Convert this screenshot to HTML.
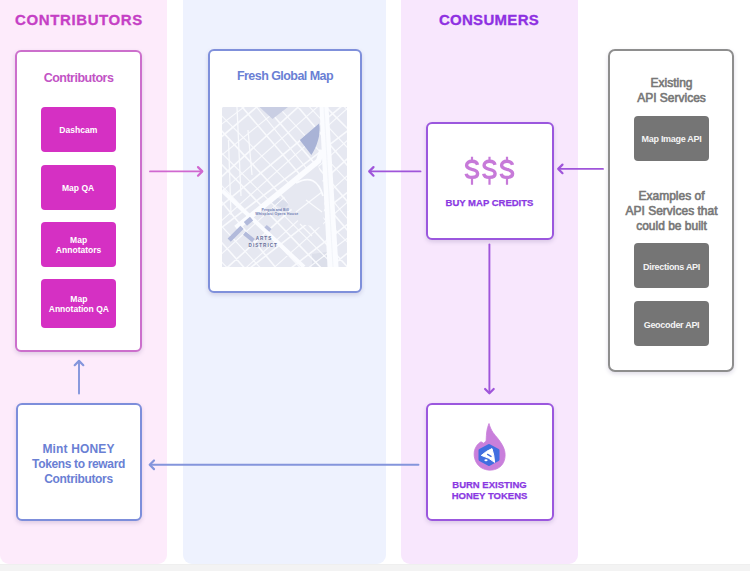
<!DOCTYPE html>
<html><head><meta charset="utf-8">
<style>
*{margin:0;padding:0;box-sizing:border-box}
html,body{width:750px;height:571px;overflow:hidden;background:#fff;font-family:"Liberation Sans",sans-serif}
.abs{position:absolute}
.col{position:absolute;top:0;height:564px;border-radius:0 0 9px 9px}
.box{position:absolute;background:#fff;border:2px solid;border-radius:6px;box-shadow:0 2px 4px rgba(80,60,120,.18)}
.t{position:absolute;white-space:nowrap;text-align:center;font-weight:bold}
.pk{position:absolute;left:41px;width:75px;height:45px;background:#d530c3;border-radius:4px;color:#fff;font-weight:bold;font-size:9.6px;line-height:10px;padding-top:1px;display:flex;align-items:center;justify-content:center;text-align:center}
.pk span{display:inline-block;transform:scaleX(0.89);white-space:nowrap}
.gb{position:absolute;left:634px;width:75px;height:45px;background:#757575;border-radius:4px;color:#f4f4f4;font-weight:bold;font-size:9px;letter-spacing:-0.3px;display:flex;align-items:center;justify-content:center}
</style></head><body>
<div class="col" style="left:0;width:166.5px;background:#fdebfb"></div>
<div class="col" style="left:182.5px;width:203.5px;background:#eef2fe"></div>
<div class="col" style="left:401px;width:177px;background:#f8e7fd"></div>
<div class="abs" style="left:0;top:564px;width:750px;height:7px;background:#f3f3f3;border-top:1px solid #efefef"></div>

<div class="t" style="left:15px;top:11px;width:128px;font-size:15px;color:#c53fc5;letter-spacing:0.6px;-webkit-text-stroke:0.3px #c53fc5">CONTRIBUTORS</div>
<div class="t" style="left:437px;top:11px;width:104px;font-size:15px;color:#8e30e2;letter-spacing:0.3px;-webkit-text-stroke:0.3px #8e30e2">CONSUMERS</div>

<!-- contributors box -->
<div class="box" style="left:15px;top:50px;width:127px;height:302px;border-color:#cc6fcc"></div>
<div class="t" style="left:15px;top:71px;width:127px;font-size:12.5px;color:#c253c5;letter-spacing:-0.5px">Contributors</div>
<div class="pk" style="top:107px"><span>Dashcam</span></div>
<div class="pk" style="top:165px"><span>Map QA</span></div>
<div class="pk" style="top:222px"><span>Map<br>Annotators</span></div>
<div class="pk" style="top:279px;height:49px;padding-top:1px"><span>Map<br>Annotation QA</span></div>

<!-- mint box -->
<div class="box" style="left:16px;top:403px;width:126px;height:118px;border-color:#7d8edb"></div>
<div class="t" style="left:15.5px;top:441.8px;width:126px;font-size:12px;line-height:15px;color:#6a80d4"><div style="letter-spacing:0.15px">Mint HONEY</div><div style="letter-spacing:-0.35px">Tokens to reward</div><div style="letter-spacing:-0.35px">Contributors</div></div>

<!-- map box -->
<div class="box" style="left:208px;top:49px;width:154px;height:244px;border-color:#7f90db"></div>
<div class="t" style="left:208.5px;top:68.7px;width:153px;font-size:12.5px;color:#6a80d4;letter-spacing:-0.55px">Fresh Global Map</div>
<svg class="abs" style="left:222px;top:107px;font-family:'Liberation Sans',sans-serif" width="125" height="160" viewBox="222 107 125 160">
 <defs><clipPath id="mc"><rect x="222" y="107" width="125.5" height="160"/></clipPath></defs>
 <g clip-path="url(#mc)">
  <rect x="222" y="107" width="126" height="160" fill="#e6e8f1"/>
  <polygon points="312,254 327,252 329,267 312,267" fill="#dcdfea"/>
  <polygon points="276,197 290,203 284,209 272,203" fill="#dadeeb"/>
  <g stroke="#f9fafd" fill="none">
   <path d="M93.3 191.9L327.9 4.9M109.0 210.5L347.1 28.0M127.0 232.1L359.8 42.9M147.9 257.0L372.5 58.1M162.0 273.7L385.9 74.1M178.2 293.0L400.9 92.1M195.5 313.6L417.6 112.0M207.0 327.4L430.9 127.8M216.0 338.0L454.9 156.5M230.6 355.4L469.1 173.4M269.9 -2.2L473.9 217.8M254.8 11.4L460.2 230.1M236.2 28.2L440.7 247.7M219.0 43.7L424.0 262.7M211.0 51.1L400.4 283.7M182.6 76.6L394.3 289.2M163.0 94.3L375.0 306.6M147.3 108.3L355.0 324.7M128.0 125.6L332.4 345.2M106.9 144.7L316.7 359.2" stroke-width="1.1"/>
   <path d="M100.2 199.9L338.7 17.9M119.4 223.1L348.5 29.4M141.7 249.5L363.5 47.5M152.5 262.5L383.8 71.4M161.8 273.4L399.8 90.8M187.2 303.8L409.6 102.4M193.8 311.6L430.9 127.8M210.0 330.8L447.1 147.1M226.6 350.8L460.0 162.3M238.8 365.2L477.8 183.8M260.0 6.8L468.9 222.2M242.1 23.1L454.1 235.3M233.7 30.5L426.9 260.0M214.7 47.5L410.6 274.7M201.5 59.4L396.4 287.6M176.4 82.0L380.2 302.2M158.1 98.6L366.2 314.7M145.9 109.7L336.4 341.4M121.9 131.1L322.0 354.6M104.9 146.4L298.6 375.5" stroke-width="1.6"/>
  </g>
  <polygon points="281,191 318,165 325,190 323,228 300,224" fill="#e6e8f1"/>
  <path d="M296 212L322 192M300 224L312 236M306 200L322 212" stroke="#f9fafd" stroke-width="1.2" fill="none"/>
  <path d="M237 107L241 196M228.5 140L231 215M248 130L252 175" stroke="#f9fafd" stroke-width="1.3" fill="none"/>
  <polygon points="259.5,107 288,107 272.5,119" fill="#c9cee3"/>
  <path d="M299.8 140L319.3 123.3C320 130 319.5 136 318.1 140C316.5 146 314 151 311.4 155Z" fill="#a9b3d6"/>
  <path d="M222 190.5L304 267" stroke="#fbfcff" stroke-width="4" fill="none"/>
  <path d="M236 228L264.5 205L318.5 161L322 150" stroke="#fbfcff" stroke-width="5.5" fill="none"/>
  <path d="M296 183Q316 172 323 196" stroke="#fbfcff" stroke-width="1.8" fill="none"/>
  <polygon points="319.5,107 328.5,107 338.5,267 327.5,267" fill="#fbfcff"/>
  <path d="M324 107L333 267" stroke="#eef0f6" stroke-width=".7"/>
  <path d="M229.2 240.2L242 227.4" stroke="#b2badb" stroke-width="4.5"/>
  <path d="M245.4 223.8L251.6 218.6" stroke="#b2badb" stroke-width="5"/>
  <path d="M244.4 233.2L253.5 240.6" stroke="#b2badb" stroke-width="4.2"/>
  <path d="M265.6 226.2L270.4 230.4" stroke="#b8bfdd" stroke-width="3.5"/>
  <text x="255.7" y="240.4" font-size="4.6" font-weight="bold" fill="#67709a" letter-spacing="1">ARTS</text>
  <text x="248.6" y="246.5" font-size="4.6" font-weight="bold" fill="#67709a" letter-spacing="1">DISTRICT</text>
  <text x="261.5" y="210.6" font-size="3.6" font-weight="bold" fill="#717db2">Pergola and Bill</text>
  <text x="255.2" y="215.4" font-size="3.6" font-weight="bold" fill="#717db2" letter-spacing=".15">Whisplasi Opera House</text>
 </g>
</svg>

<!-- buy box -->
<div class="box" style="left:425.5px;top:122px;width:128px;height:118px;border-color:#9b57de"></div>
<svg class="abs" style="left:450px;top:150px" width="75" height="40" viewBox="450 150 75 40"><g fill="none" stroke="#c77ad9" stroke-width="3.4"><g transform="translate(472 169.35)"><path d="M5.5 -4.5C5 -6.9 2.8 -8.05 0 -8.05C-3.2 -8.05 -5.4 -6.5 -5.4 -4C-5.4 -1.2 -2.6 -0.5 0 0.1C3 0.7 5.6 1.6 5.6 4.4C5.6 7 3.2 8.05 0 8.05C-3 8.05 -5.4 6.8 -5.8 4.3"/><path d="M0 -12.6V-9M0 9V15.4" stroke-width="2.2"/></g><g transform="translate(489.5 169.35)"><path d="M5.5 -4.5C5 -6.9 2.8 -8.05 0 -8.05C-3.2 -8.05 -5.4 -6.5 -5.4 -4C-5.4 -1.2 -2.6 -0.5 0 0.1C3 0.7 5.6 1.6 5.6 4.4C5.6 7 3.2 8.05 0 8.05C-3 8.05 -5.4 6.8 -5.8 4.3"/><path d="M0 -12.6V-9M0 9V15.4" stroke-width="2.2"/></g><g transform="translate(507 169.35)"><path d="M5.5 -4.5C5 -6.9 2.8 -8.05 0 -8.05C-3.2 -8.05 -5.4 -6.5 -5.4 -4C-5.4 -1.2 -2.6 -0.5 0 0.1C3 0.7 5.6 1.6 5.6 4.4C5.6 7 3.2 8.05 0 8.05C-3 8.05 -5.4 6.8 -5.8 4.3"/><path d="M0 -12.6V-9M0 9V15.4" stroke-width="2.2"/></g></g></svg>
<div class="t" style="left:426px;top:197px;width:127px;font-size:9.5px;color:#8a38e2;-webkit-text-stroke:0.25px #8a38e2">BUY MAP CREDITS</div>

<!-- burn box -->
<div class="box" style="left:425.5px;top:403px;width:128px;height:118px;border-color:#9b57de"></div>
<div class="t" style="left:426px;top:479px;width:127px;font-size:9.5px;line-height:11px;color:#8a38e2;-webkit-text-stroke:0.25px #8a38e2">BURN EXISTING<br>HONEY TOKENS</div>

<svg class="abs" style="left:470px;top:420px" width="40" height="54" viewBox="470 420 40 54">
 <path d="M489 423.5C488 426 487 429 486.6 433C486.2 437 486.3 439.5 486 441.2L483.6 443.2L481 441.8C478 443.5 475.5 446.5 474.5 450.5C473.5 455.5 474.5 461 478.5 465.5C482.5 469.5 488 470.6 492.5 470C498 469.2 502.5 466 504.3 460.5C506 455 505 449.5 502 444.5C499.5 440 496 436.5 493 432.5C491 429.5 489.8 426.5 489 423.5Z" fill="#c97fdb" stroke="#c97fdb" stroke-width="0.8" stroke-linejoin="round"/>
 <polygon points="489,445.6 497.9,450.5 497.9,459.5 489,464.4 480.1,459.5 480.1,450.5" fill="#416ee0" stroke="#416ee0" stroke-width="3.2" stroke-linejoin="round"/>
 <path d="M481.3 455.4Q486.5 450.8 492 448.6Q494.2 455 494.6 462.4Q489.5 457.6 481.3 455.4Z" fill="#fff" stroke="#fff" stroke-width="1" stroke-linejoin="round"/>
 <path d="M487.6 454.4L491 456.4" stroke="#416ee0" stroke-width="1.4" stroke-linecap="round"/>
 <ellipse cx="486" cy="460.2" rx="1.6" ry="1" fill="#fff"/>
</svg>

<!-- api box -->
<div class="box" style="left:608px;top:49px;width:126px;height:323px;border-color:#8e8e8e;border-radius:7px"></div>
<div class="t" style="left:609px;top:75.5px;width:125px;font-size:12px;line-height:15px;color:#777;font-weight:normal;-webkit-text-stroke:0.6px #777">Existing<br>API Services</div>
<div class="gb" style="top:116px">Map Image API</div>
<div class="t" style="left:609px;top:188.5px;width:125px;font-size:12px;line-height:15px;color:#777;font-weight:normal;-webkit-text-stroke:0.6px #777">Examples of<br>API Services that<br>could be built</div>
<div class="gb" style="top:243px;padding-top:2px">Directions API</div>
<div class="gb" style="top:301px;padding-top:2px">Geocoder API</div>

<!-- arrows -->
<svg class="abs" style="left:0;top:0" width="750" height="571" viewBox="0 0 750 571" fill="none" stroke-linecap="round" stroke-linejoin="round">
 <g stroke="#d068d0" stroke-width="1.9"><path d="M150 171.4H202"/><path d="M198 167.1L202.3 171.4L198 175.7" stroke-width="2.2"/></g>
 <g stroke="#9f55da" stroke-width="1.9"><path d="M420.5 171.4H370"/><path d="M373.5 167.1L369.2 171.4L373.5 175.7" stroke-width="2.2"/></g>
 <g stroke="#9f55da" stroke-width="1.9"><path d="M603 168.9H559"/><path d="M562.5 164.6L558.2 168.9L562.5 173.2" stroke-width="2.2"/></g>
 <g stroke="#9f55da" stroke-width="1.9"><path d="M489.4 244.5V392.5"/><path d="M485.1 389L489.4 393.3L493.7 389" stroke-width="2.2"/></g>
 <g stroke="#8495dc" stroke-width="1.9"><path d="M418.5 464.8H150.5"/><path d="M154 460.5L149.7 464.8L154 469.1" stroke-width="2.2"/></g>
 <g stroke="#8495dc" stroke-width="1.9"><path d="M79 393.5V361.5"/><path d="M74.7 365.2L79 360.9L83.3 365.2" stroke-width="2.2"/></g>
</svg>
</body></html>
